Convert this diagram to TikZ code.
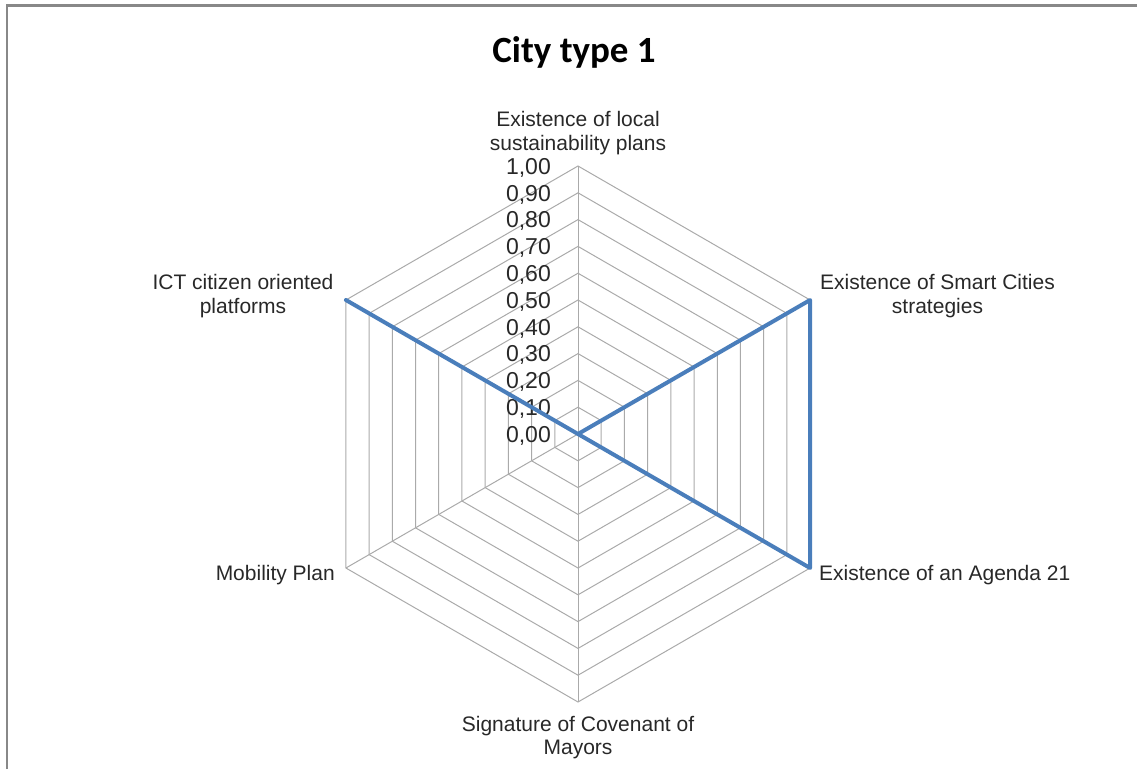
\documentclass[tikz,border=0pt]{standalone}
\usepackage{fontspec}
\setmainfont{Liberation Sans}
\newfontfamily\titlefont{Carlito}
\usetikzlibrary{calc}
\definecolor{gridgray}{RGB}{170,170,170}
\definecolor{framegray}{RGB}{136,136,136}
\definecolor{serieblue}{RGB}{74,126,187}
\definecolor{labeltext}{RGB}{40,40,40}
\begin{document}
\begin{tikzpicture}[x=1pt,y=-1pt,
  gridline/.style={draw=gridgray,line width=1pt},
  series/.style={draw=serieblue,line width=4pt,line join=round,line cap=round},
  axislabel/.style={inner sep=0pt,align=center,text=labeltext,font=\fontsize{21}{23.5}\selectfont},
  valuelabel/.style={inner sep=0pt,anchor=base east,text=labeltext,font=\fontsize{23}{26}\selectfont},
  charttitle/.style={inner sep=0pt,anchor=base,font=\titlefont\bfseries\fontsize{37}{40}\selectfont}]
\useasboundingbox (0,0) rectangle (1137,769);
% chart area frame
\draw[framegray,line width=2.5pt] (7.2,769) -- (7.2,5.3) -- (1137,5.3);
% centre and outer vertices of the radar
\coordinate (O) at (578,434);
\coordinate (v1) at (578,166);
\coordinate (v2) at (810.1,300);
\coordinate (v3) at (810.1,568);
\coordinate (v4) at (578,702);
\coordinate (v5) at (345.9,568);
\coordinate (v6) at (345.9,300);
% hexagonal grid rings, 0,10 to 1,00
\foreach \k in {1,...,10}{
  \pgfmathsetmacro{\r}{26.8*\k}
  \pgfmathsetmacro{\a}{0.8660254*\r}
  \pgfmathsetmacro{\b}{0.5*\r}
  \draw[gridline] (578,434-\r) -- (578+\a,434-\b) -- (578+\a,434+\b)
    -- (578,434+\r) -- (578-\a,434+\b) -- (578-\a,434-\b) -- cycle;
}
% spokes
\foreach \v in {v1,v2,v3,v4,v5,v6}{ \draw[gridline] (O) -- (\v); }
% value scale
\foreach \k/\t in {0/{0,00},1/{0,10},2/{0,20},3/{0,30},4/{0,40},5/{0,50},6/{0,60},7/{0,70},8/{0,80},9/{0,90},10/{1,00}}{
  \node[valuelabel] (s\k) at (551,{434-26.8*\k+8.2}) {\t};
}
% data series
\draw[series] (O) -- (v2) -- (v3) -- (O) -- (v6) -- cycle;
% axis captions
\node[axislabel] (l1) at (578,133) {Existence of local\\sustainability plans};
\node[axislabel] (l2) at (937.5,296) {Existence of Smart Cities\\strategies};
\node[axislabel,anchor=base west] (l3) at (819,580) {Existence of an Agenda 21};
\node[axislabel] (l4) at (578,737.5) {Signature of Covenant of\\Mayors};
\node[axislabel,anchor=base east] (l5) at (335,580) {Mobility Plan};
\node[axislabel] (l6) at (243,296) {ICT citizen oriented\\platforms};
% title
\node[charttitle] (title) at (574,62) {City type 1};
\end{tikzpicture}
\end{document}
